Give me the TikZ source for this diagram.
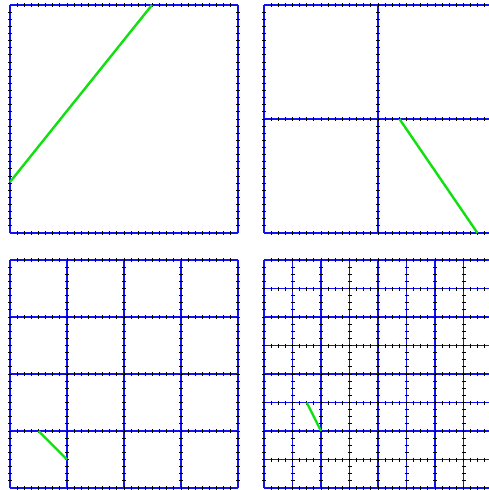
\documentclass[tikz,border=0pt]{standalone}
\usepackage{xcolor}
\usepackage{tikz}
\definecolor{meshblue}{HTML}{1010F0}
\definecolor{segreen}{HTML}{10E010}

% one square panel: origin x, origin y, cells per side
\newcommand{\meshpanel}[3]{%
  \begin{scope}[shift={(#1,#2)}]
    \pgfmathsetmacro\cellw{228/#3}
    \foreach \k in {0,...,#3} {
      \draw[gridline] (\k*\cellw,0) -- (\k*\cellw,228);
      \draw[gridline] (0,\k*\cellw) -- (228,\k*\cellw);
    }
    \foreach \k in {0,...,#3} {
      \foreach \j in {1,...,31} {
        \draw[tickmark] (\k*\cellw-2,\j*7.125) -- ++(4,0);
        \draw[tickmark] (\j*7.125,\k*\cellw-2) -- ++(0,4);
      }
    }
  \end{scope}}

\begin{document}
\begin{tikzpicture}[
    x=1pt, y=-1pt,
    gridline/.style={meshblue,line width=1.4pt},
    tickmark/.style={black,line width=0.8pt},
    seg/.style={segreen,line width=2.4pt}
  ]
    \useasboundingbox (0,0) rectangle (488,490);

    \meshpanel{10}{5}{1}
    \meshpanel{264}{5}{2}
    \meshpanel{10}{260}{4}
    \meshpanel{264}{260}{8}

    \draw[seg] (10,182) -- (152,5);
    \draw[seg] (399.5,119) -- (477.5,233);
    \draw[seg] (38.5,431) -- (67,459.5);
    \draw[seg] (306.75,402.5) -- (321,431);
  \end{tikzpicture}
\end{document}
